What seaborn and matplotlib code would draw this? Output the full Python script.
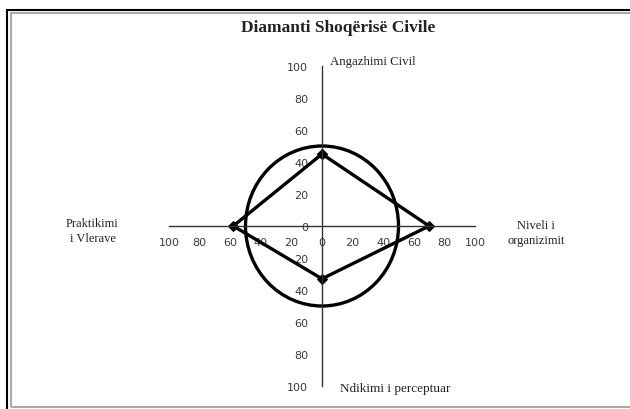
import numpy as np
import pandas as pd
import matplotlib
matplotlib.use("Agg")
import matplotlib.pyplot as plt
import matplotlib.patches as patches
from matplotlib.lines import Line2D
from matplotlib.ticker import FuncFormatter
import seaborn as sns

# dimensions of the diamond (top, right, bottom, left)
dimensions = ["Angazhimi Civil", "Niveli i\norganizimit", "Ndikimi i perceptuar", "Praktikimi\ni Vlerave"]
scores = [45, 70, 33, 58]
circle_radius = 50
tick_values = [-100, -80, -60, -40, -20, 0, 20, 40, 60, 80, 100]

# top, right, bottom, left directions
dir_x = [0, 1, 0, -1]
dir_y = [1, 0, -1, 0]
pts = pd.DataFrame({
    "x": [d * s for d, s in zip(dir_x, scores)],
    "y": [d * s for d, s in zip(dir_y, scores)],
})
pts = pd.concat([pts, pts.iloc[:1]], ignore_index=True)

sns.set_style("white")
plt.rcParams["font.family"] = ["DejaVu Sans"]

fig = plt.figure(figsize=(6.3, 4.1), dpi=100)
ax = fig.add_axes([169 / 630, 23 / 410, 306 / 630, 320 / 410])

sns.lineplot(data=pts, x="x", y="y", sort=False, estimator=None, color="black",
             linewidth=2.4, marker="D", markersize=5.5, markeredgecolor="black", ax=ax)
ax.add_patch(patches.Circle((0, 0), circle_radius, fill=False, edgecolor="black", linewidth=2.4))

ax.set_xlim(-100, 100)
ax.set_ylim(-100, 100)
ax.set_xlabel("")
ax.set_ylabel("")
for side in ["top", "right"]:
    ax.spines[side].set_visible(False)
ax.spines["left"].set_position("zero")
ax.spines["bottom"].set_position("zero")
for side in ["left", "bottom"]:
    ax.spines[side].set_color("#333333")
    ax.spines[side].set_linewidth(1.0)
ax.set_xticks(tick_values)
ax.set_yticks(tick_values)
fmt = FuncFormatter(lambda v, p: "%d" % abs(v))
ax.xaxis.set_major_formatter(fmt)
ax.yaxis.set_major_formatter(fmt)
ax.tick_params(axis="both", direction="out", length=4, width=1, color="#333333",
               labelsize=8, labelcolor="#3a3a3a", pad=3)
ax.tick_params(axis="x", pad=4)
ax.tick_params(axis="y", pad=6)

serif = ["Liberation Serif", "DejaVu Serif"]
ax.text(5, 103, dimensions[0], ha="left", va="center", fontsize=9.3, family=serif, color="#222222", clip_on=False)
ax.text(140, -4, dimensions[1], ha="center", va="center", fontsize=9, family=serif, color="#222222",
        linespacing=1.35, clip_on=False)
ax.text(12, -101, dimensions[2], ha="left", va="center", fontsize=9.5, family=serif, color="#222222", clip_on=False)
ax.text(-150, -3, dimensions[3], ha="center", va="center", fontsize=9, family=serif, color="#222222",
        linespacing=1.35, clip_on=False)

fig.text(0.537, 1 - 28 / 410, "Diamanti Shoqërisë Civile", ha="center", va="center",
         fontsize=12.5, fontweight="bold", family=serif, color="#222222")

# chart frame
fig.add_artist(patches.Rectangle((11 / 630, 2 / 410), 0.99, 1 - 16 / 410, transform=fig.transFigure,
                                 fill=False, edgecolor="#aaaaaa", linewidth=1.5))
fig.add_artist(Line2D([7 / 630, 1], [1 - 11 / 410, 1 - 11 / 410], transform=fig.transFigure,
                      color="black", linewidth=1.5))
fig.add_artist(Line2D([7 / 630, 7 / 630], [0, 1 - 11 / 410], transform=fig.transFigure,
                      color="black", linewidth=1.5))

fig.savefig("out.png", dpi=100)
